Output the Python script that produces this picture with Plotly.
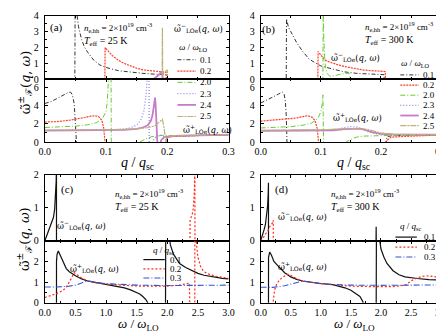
import plotly.graph_objects as go

# curve labels
w_labels = ["0.1", "0.2", "2.0", "2.3", "2.4", "2.5"]   # omega / omega_LO, panels a, b
q_labels = ["0.1", "0.2", "0.3"]                        # q / q_sc, panels c, d

# ---- panel (a), T_eff = 25 K, upper part (w~ minus) vs q/q_sc
a_up_q01 = [0.0, 0.049, 0.0495, 0.052, 0.055, 0.06, 0.065, 0.07, 0.08, 0.09, 0.1, 0.12, 0.14, 0.16, 0.18, 0.198, 0.1985, 0.3]
a_up_v01 = [0, 0, 5.0, 4.2, 3.3, 2.5, 2.0, 1.7, 1.2, 0.9, 0.75, 0.55, 0.45, 0.38, 0.33, 0.3, 0, 0]
a_up_q02 = [0.0, 0.098, 0.0985, 0.105, 0.11, 0.115, 0.12, 0.13, 0.14, 0.15, 0.16, 0.17, 0.18, 0.19, 0.198, 0.1985, 0.3]
a_up_v02 = [0, 0, 2.0, 1.7, 1.5, 1.35, 1.2, 1.0, 0.83, 0.7, 0.6, 0.55, 0.5, 0.47, 0.45, 0, 0]
a_up_q20 = [0.0, 0.3]
a_up_v20 = [0, 0]
a_up_q23 = [0.0, 0.3]
a_up_v23 = [0, 0]
a_up_q24 = [0.0, 0.177, 0.185, 0.192, 0.1925, 0.3]
a_up_v24 = [0, 0, 0.25, 0.5, 0, 0]
a_up_q25 = [0.0, 0.1915, 0.192, 0.1925, 0.195, 0.2, 0.2005, 0.3]
a_up_v25 = [0, 0, 3.25, 0.3, 0.45, 0.6, 0, 0]

# ---- panel (a), lower part (w~ plus)
a_lo_q01 = [0.0, 0.01, 0.02, 0.03, 0.038, 0.042, 0.045, 0.048, 0.05, 0.0515, 0.052, 0.199, 0.2, 0.21, 0.23, 0.26, 0.3]
a_lo_v01 = [4.25, 4.45, 4.8, 5.2, 5.45, 5.5, 5.2, 4.2, 2.0, 0.3, -0.5, -0.5, 0.55, 0.65, 0.7, 0.75, 0.8]
a_lo_q02 = [0.0, 0.02, 0.04, 0.055, 0.065, 0.075, 0.082, 0.088, 0.093, 0.096, 0.098, 0.099, 0.199, 0.2, 0.21, 0.23, 0.26, 0.3]
a_lo_v02 = [2.2, 2.25, 2.4, 2.55, 2.7, 2.85, 2.9, 2.8, 2.4, 1.6, 0.5, -0.5, -0.5, 0.5, 0.62, 0.68, 0.74, 0.8]
a_lo_q20 = [0.0, 0.03, 0.05, 0.07, 0.085, 0.095, 0.1, 0.102, 0.104, 0.106, 0.108, 0.1085, 0.15, 0.155, 0.165, 0.175, 0.185, 0.195, 0.2, 0.21, 0.25, 0.3]
a_lo_v20 = [1.6, 1.65, 1.75, 1.9, 2.15, 2.7, 3.4, 4.5, 6.8, 9.0, 12.0, -0.5, -0.5, 0.0, 0.35, 0.6, 0.7, 0.75, 0.7, 0.7, 0.74, 0.8]
a_lo_q23 = [0.0, 0.05, 0.1, 0.12, 0.135, 0.145, 0.152, 0.158, 0.162, 0.165, 0.167, 0.17, 0.1705, 0.175, 0.178, 0.185, 0.19, 0.195, 0.2, 0.21, 0.25, 0.3]
a_lo_v23 = [1.3, 1.3, 1.32, 1.38, 1.5, 1.7, 2.0, 2.6, 3.5, 5.0, 6.8, 9.0, -0.5, -0.5, 0.4, 0.7, 0.75, 0.6, 0.55, 0.65, 0.73, 0.8]
a_lo_q24 = [0.0, 0.05, 0.1, 0.13, 0.15, 0.16, 0.168, 0.173, 0.176, 0.178, 0.18, 0.181, 0.182, 0.183, 0.184, 0.188, 0.19, 0.195, 0.2, 0.21, 0.25, 0.3]
a_lo_v24 = [1.25, 1.25, 1.27, 1.33, 1.45, 1.6, 1.85, 2.3, 3.0, 4.0, 4.9, 4.0, 2.2, 0.8, -0.5, -0.5, 0.2, 0.55, 0.6, 0.68, 0.74, 0.8]
a_lo_q25 = [0.0, 0.1, 0.15, 0.17, 0.18, 0.186, 0.19, 0.192, 0.194, 0.196, 0.197, 0.199, 0.2, 0.205, 0.21, 0.25, 0.3]
a_lo_v25 = [1.3, 1.33, 1.45, 1.6, 1.8, 2.1, 2.4, 2.5, 1.8, 0.8, -0.5, -0.5, 0.5, 0.6, 0.7, 0.75, 0.82]

# ---- panel (b), T_eff = 300 K, upper part
b_up_q01 = [0.0, 0.0425, 0.043, 0.046, 0.05, 0.055, 0.06, 0.07, 0.08, 0.09, 0.1, 0.12, 0.14, 0.16, 0.18, 0.2, 0.205, 0.2055, 0.3]
b_up_v01 = [0, 0, 3.8, 3.3, 3.0, 2.6, 2.3, 1.75, 1.3, 1.05, 0.85, 0.65, 0.47, 0.38, 0.34, 0.3, 0.3, 0, 0]
b_up_q02 = [0.0, 0.095, 0.0955, 0.1, 0.105, 0.11, 0.12, 0.13, 0.14, 0.15, 0.16, 0.17, 0.18, 0.19, 0.2, 0.207, 0.2075, 0.3]
b_up_v02 = [0, 0, 1.75, 1.5, 1.3, 1.15, 1.0, 0.9, 0.8, 0.72, 0.65, 0.6, 0.56, 0.53, 0.5, 0.5, 0, 0]
b_up_q20 = [0.0, 0.1035, 0.104, 0.105, 0.107, 0.11, 0.115, 0.125, 0.135, 0.145, 0.147, 0.1475, 0.3]
b_up_v20 = [0, 0, 4.5, 2.5, 1.0, 0.4, 0.2, 0.25, 0.35, 0.4, 0.4, 0, 0]
b_up_q23 = [0.0, 0.3]
b_up_v23 = [0, 0]
b_up_q24 = [0.0, 0.3]
b_up_v24 = [0, 0]
b_up_q25 = [0.0, 0.3]
b_up_v25 = [0, 0]

# ---- panel (b), lower part
b_lo_q01 = [0.0, 0.01, 0.02, 0.03, 0.036, 0.039, 0.041, 0.0425, 0.0435, 0.044, 0.208, 0.21, 0.22, 0.25, 0.3]
b_lo_v01 = [4.3, 4.6, 4.95, 5.3, 5.5, 5.3, 4.5, 3.0, 1.0, -0.5, -0.5, 0.6, 0.7, 0.75, 0.8]
b_lo_q02 = [0.0, 0.02, 0.04, 0.06, 0.07, 0.078, 0.085, 0.09, 0.094, 0.096, 0.097, 0.207, 0.208, 0.215, 0.22, 0.24, 0.27, 0.3]
b_lo_v02 = [2.3, 2.4, 2.5, 2.65, 2.8, 2.9, 2.75, 2.4, 1.5, 0.5, -0.5, -0.5, 0.05, 0.45, 0.55, 0.62, 0.7, 0.78]
b_lo_q20 = [0.0, 0.03, 0.05, 0.07, 0.085, 0.095, 0.1, 0.103, 0.1035, 0.104, 0.1045, 0.14, 0.142, 0.15, 0.16, 0.17, 0.19, 0.21, 0.25, 0.3]
b_lo_v20 = [1.55, 1.6, 1.7, 1.85, 2.1, 2.6, 3.3, 4.5, 5.2, 3.0, -0.5, -0.5, 0.0, 0.3, 0.55, 0.65, 0.7, 0.72, 0.75, 0.78]
b_lo_q23 = [0.0, 0.05, 0.1, 0.12, 0.135, 0.15, 0.16, 0.17, 0.18, 0.19, 0.2, 0.25, 0.3]
b_lo_v23 = [1.25, 1.25, 1.28, 1.35, 1.5, 1.7, 1.65, 1.35, 1.1, 0.95, 0.85, 0.8, 0.8]
b_lo_q24 = [0.0, 0.05, 0.1, 0.12, 0.14, 0.155, 0.165, 0.175, 0.185, 0.2, 0.22, 0.3]
b_lo_v24 = [1.22, 1.23, 1.25, 1.3, 1.42, 1.5, 1.48, 1.3, 1.1, 0.9, 0.85, 0.8]
b_lo_q25 = [0.0, 0.05, 0.1, 0.14, 0.165, 0.18, 0.2, 0.22, 0.3]
b_lo_v25 = [1.3, 1.32, 1.35, 1.45, 1.5, 1.35, 1.0, 0.85, 0.8]

# ---- panel (c), T_eff = 25 K, vs omega/omega_LO
c_up_w01 = [0.0, 0.02, 0.05, 0.08, 0.11, 0.14, 0.16, 0.175, 0.185, 0.19, 0.1905, 3.0]
c_up_v01 = [0, 0.1, 0.22, 0.35, 0.5, 0.7, 0.95, 1.3, 1.8, 2.3, 0, 0]
c_up_w02 = [0.0, 2.37, 2.372, 2.4, 2.42, 2.44, 2.45, 2.452, 3.0]
c_up_v02 = [0, 0, 0.65, 0.75, 0.9, 1.4, 2.2, 0, 0]
c_up_w03 = [0.0, 3.0]
c_up_v03 = [0, 0]

c_lo_w01 = [0.0, 0.19, 0.1905, 0.2, 0.22, 0.25, 0.3, 0.35, 0.4, 0.5, 0.6, 0.7, 0.8, 0.9, 1.0, 1.1, 1.2, 1.3, 1.4, 1.5,
            1.55, 1.6, 1.65, 1.68, 1.69, 1.97, 1.975, 2.0, 2.02, 2.05, 2.1, 2.15, 2.2, 2.3, 2.4, 2.5, 2.6, 2.7, 2.8, 2.9, 3.0]
c_lo_v01 = [-0.5, -0.5, 2.0, 2.35, 2.5, 2.3, 1.9, 1.65, 1.5, 1.3, 1.15, 1.05, 1.0, 0.95, 0.9, 0.85, 0.8, 0.72, 0.62, 0.5,
            0.42, 0.3, 0.15, 0.0, -0.5, -0.5, 4.0, 4.0, 3.4, 2.8, 2.35, 2.1, 1.9, 1.7, 1.55, 1.42, 1.33, 1.27, 1.22, 1.18, 1.15]
c_lo_w02 = [0.0, 0.1, 0.2, 0.3, 0.35, 0.4, 0.45, 0.48, 0.55, 0.6, 0.7, 0.8, 1.0, 1.2, 1.4, 1.6, 1.8, 2.0, 2.2, 2.3, 2.36,
            2.37, 2.449, 2.45, 2.47, 2.5, 2.55, 2.6, 2.7, 2.8, 2.9, 3.0]
c_lo_v02 = [0.25, 0.35, 0.45, 0.6, 0.75, 1.0, 1.3, 1.45, 1.3, 1.2, 1.05, 0.98, 0.9, 0.85, 0.82, 0.8, 0.8, 0.8, 0.85, 0.9, 0.95,
            -0.5, -0.5, 4.0, 3.0, 2.2, 1.7, 1.5, 1.35, 1.28, 1.22, 1.18]
c_lo_w03 = [0.0, 0.2, 0.4, 0.5, 0.6, 0.68, 0.75, 0.85, 1.0, 1.2, 1.5, 2.0, 2.5, 3.0]
c_lo_v03 = [0.76, 0.76, 0.8, 0.85, 0.95, 1.05, 1.03, 0.97, 0.92, 0.88, 0.85, 0.83, 0.85, 0.85]

# ---- panel (d), T_eff = 300 K
d_up_w01 = [0.0, 0.02, 0.04, 0.06, 0.08, 0.1, 0.115, 0.125, 0.13, 0.1305, 1.918, 1.92, 1.922, 3.0]
d_up_v01 = [0, 0.1, 0.2, 0.35, 0.5, 0.75, 1.05, 1.4, 1.75, 0, 0, 0.42, 0, 0]
d_up_w02 = [0.0, 0.03, 0.08, 0.12, 0.16, 0.2, 0.21, 0.2105, 3.0]
d_up_v02 = [0, 0.05, 0.2, 0.3, 0.45, 0.55, 0.62, 0, 0]
d_up_w03 = [0.0, 3.0]
d_up_v03 = [0, 0]

d_lo_w01 = [0.0, 0.13, 0.131, 0.15, 0.18, 0.22, 0.3, 0.4, 0.5, 0.6, 0.7, 0.8, 1.0, 1.2, 1.3, 1.4, 1.5, 1.6, 1.65, 1.7,
            1.705, 1.92, 1.925, 1.96, 1.98, 2.0, 2.05, 2.1, 2.2, 2.3, 2.4, 2.5, 2.6, 2.8, 3.0]
d_lo_v01 = [-0.5, -0.5, 2.2, 2.45, 2.3, 2.0, 1.75, 1.45, 1.25, 1.13, 1.05, 1.0, 0.93, 0.87, 0.8, 0.72, 0.6, 0.42, 0.3, 0.05,
            -0.5, -0.5, 4.0, 3.4, 2.9, 2.6, 2.2, 1.9, 1.55, 1.35, 1.25, 1.2, 1.17, 1.12, 1.1]
d_lo_w02 = [0.0, 0.21, 0.211, 0.23, 0.26, 0.3, 0.35, 0.4, 0.45, 0.5, 0.6, 0.7, 0.8, 1.0, 1.2, 1.5, 1.8, 2.0, 2.2, 2.4,
            2.5, 2.6, 2.7, 2.8, 2.9, 3.0]
d_lo_v02 = [-0.5, -0.5, 0.1, 0.6, 0.85, 1.05, 1.2, 1.3, 1.38, 1.33, 1.15, 1.05, 1.0, 0.92, 0.86, 0.8, 0.78, 0.78, 0.78, 0.85,
            1.05, 1.2, 1.28, 1.3, 1.25, 1.22]
d_lo_w03 = [0.0, 0.2, 0.4, 0.5, 0.6, 0.7, 0.8, 1.0, 1.2, 1.5, 2.0, 2.5, 3.0]
d_lo_v03 = [0.75, 0.74, 0.82, 0.9, 1.0, 1.05, 1.0, 0.92, 0.88, 0.85, 0.84, 0.85, 0.86]

W, H = 444, 335
FONT = "Liberation Serif"
FONT_W = "DejaVu Serif"   # handles the combining tilde on omega


def px(x):
    return x / W


def py(y):
    return 1 - y / H


# line styles for omega/omega_LO curves and q/q_sc curves
w_styles = [dict(color="#333333", dash="4px,2px,1px,2px", width=1),
            dict(color="#ff3b26", dash="2px,1px", width=1.2),
            dict(color="#66cc33", dash="5px,2px,1px,2px", width=1),
            dict(color="#8c8cf0", dash="1px,2px", width=1.3),
            dict(color="#c77cc7", width=1.8),
            dict(color="#bab276", dash="6px,1px,2px,1px", width=1.2)]
q_styles = [dict(color="#111111", width=1.2),
            dict(color="#ff2a1a", dash="2px,2px", width=1.2),
            dict(color="#3355cc", dash="6px,2px,1px,2px", width=1.1)]

panels = {
    1: (w_styles, [(a_up_q01, a_up_v01), (a_up_q02, a_up_v02), (a_up_q20, a_up_v20),
                   (a_up_q23, a_up_v23), (a_up_q24, a_up_v24), (a_up_q25, a_up_v25)]),
    2: (w_styles, [(a_lo_q01, a_lo_v01), (a_lo_q02, a_lo_v02), (a_lo_q20, a_lo_v20),
                   (a_lo_q23, a_lo_v23), (a_lo_q24, a_lo_v24), (a_lo_q25, a_lo_v25)]),
    3: (w_styles, [(b_up_q01, b_up_v01), (b_up_q02, b_up_v02), (b_up_q20, b_up_v20),
                   (b_up_q23, b_up_v23), (b_up_q24, b_up_v24), (b_up_q25, b_up_v25)]),
    4: (w_styles, [(b_lo_q01, b_lo_v01), (b_lo_q02, b_lo_v02), (b_lo_q20, b_lo_v20),
                   (b_lo_q23, b_lo_v23), (b_lo_q24, b_lo_v24), (b_lo_q25, b_lo_v25)]),
    5: (q_styles, [(c_up_w01, c_up_v01), (c_up_w02, c_up_v02), (c_up_w03, c_up_v03)]),
    6: (q_styles, [(c_lo_w01, c_lo_v01), (c_lo_w02, c_lo_v02), (c_lo_w03, c_lo_v03)]),
    7: (q_styles, [(d_up_w01, d_up_v01), (d_up_w02, d_up_v02), (d_up_w03, d_up_v03)]),
    8: (q_styles, [(d_lo_w01, d_lo_v01), (d_lo_w02, d_lo_v02), (d_lo_w03, d_lo_v03)]),
}

fig = go.Figure()
for k, (styles, curves) in panels.items():
    sfx = "" if k == 1 else str(k)
    for st, (xs, ys) in zip(styles, curves):
        fig.add_trace(go.Scatter(x=xs, y=ys, mode="lines", line=st, showlegend=False,
                                 xaxis="x" + sfx, yaxis="y" + sfx, hoverinfo="skip"))

# pixel boxes of the sub-plots
col_x = {"L": (31.7, 220.5), "R": (253.5, 439.0)}
row_y = {1: (2.7, 68.7), 2: (68.7, 133.4), 3: (167.0, 235.5), 4: (235.5, 299.5)}
# panel: column, row, x range, y range, y tick values, x tick step
layout_spec = {
    1: ("L", 1, [0, 0.3], [0, 4.0], [0, 1, 2, 3, 4], 0.1),
    2: ("L", 2, [0, 0.3], [0, 6.9], [0, 2, 4, 6], 0.1),
    3: ("R", 1, [0, 0.3], [0, 4.0], [0, 1, 2, 3, 4], 0.1),
    4: ("R", 2, [0, 0.3], [0, 6.9], [0, 2, 4, 6], 0.1),
    5: ("L", 3, [0, 3], [0, 2.0], [0, 1, 2], 0.5),
    6: ("L", 4, [0, 3], [0, 3.0], [0, 1, 2], 0.5),
    7: ("R", 3, [0, 3], [0, 2.0], [0, 1, 2], 0.5),
    8: ("R", 4, [0, 3], [0, 3.0], [0, 1, 2], 0.5),
}

axis_common = dict(showline=True, linecolor="black", linewidth=1, mirror="ticks", ticks="inside",
                   ticklen=3, tickwidth=1, tickcolor="black", showgrid=False, zeroline=False,
                   tickfont=dict(family=FONT, size=10, color="black"))

lay = {}
for k, (col, row, xr, yr, yticks, xdt) in layout_spec.items():
    sfx = "" if k == 1 else str(k)
    x0, x1 = col_x[col]
    y0, y1 = row_y[row]
    upper = row in (1, 3)
    xa = dict(axis_common, domain=[px(x0), px(x1)], range=xr, dtick=xdt, tick0=0, tickformat=".1f",
              anchor="y" + sfx, showticklabels=not upper,
              minor=dict(ticks="inside", ticklen=2, dtick=xdt / 2, tickcolor="black"))
    ystep = yticks[1] - yticks[0]
    ya = dict(axis_common, domain=[py(y1), py(y0)], range=yr, tickvals=yticks,
              anchor="x" + sfx, ticklabelstandoff=3,
              minor=dict(ticks="inside", ticklen=2, dtick=ystep / 2, tick0=0, tickcolor="black"))
    lay["xaxis" + sfx] = xa
    lay["yaxis" + sfx] = ya

fig.update_layout(**lay)

ann = []
shapes = []


def text(x, y, s, size=10, xanchor="center", family=FONT):
    ann.append(dict(x=px(x), y=py(y), xref="paper", yref="paper", text=s, showarrow=False,
                    xanchor=xanchor, yanchor="middle", font=dict(family=family, size=size, color="black")))


wt = "ω\u0303"
minus_lbl = wt + "<sup>−</sup><sub>LOe</sub>(<i>q</i>, <i>ω</i>)"
plus_lbl = wt + "<sup>+</sup><sub>LOe</sub>(<i>q</i>, <i>ω</i>)"
dens = "<i>n</i><sub>e,hh</sub> = 2×10<sup>19</sup> cm<sup>-3</sup>"

# panel labels and parameters
text(44, 15, "(a)", 11)
text(262, 17, "(b)", 11)
text(55, 182, "(c)", 11)
text(275, 182, "(d)", 11)
text(70, 15, dens, 9, "left")
text(70, 29, "<i>T</i><sub>eff</sub> = 25 K", 10, "left")
text(359, 14, dens, 9, "left")
text(359, 28, "<i>T</i><sub>eff</sub> = 300 K", 10, "left")
text(102, 187, dens, 9, "left")
text(102, 201, "<i>T</i><sub>eff</sub> = 25 K", 10, "left")
text(324, 187, dens, 9, "left")
text(324, 201, "<i>T</i><sub>eff</sub> = 300 K", 10, "left")

text(190, 16, minus_lbl, 8.5, family=FONT_W)
text(199, 120, plus_lbl, 8.5, family=FONT_W)
text(351, 46, minus_lbl, 8.5, family=FONT_W)
text(353, 108, plus_lbl, 8.5, family=FONT_W)
text(69, 219, minus_lbl, 8.5, family=FONT_W)
text(83, 264, plus_lbl, 8.5, family=FONT_W)
text(296, 210, minus_lbl, 8.5, family=FONT_W)
text(297, 262, plus_lbl, 8.5, family=FONT_W)

# axis titles
ytitle = wt + "<sup>±</sup><sub>ℱ</sub>(<i>q</i>, <i>ω</i>)"
for yc in (72, 234):
    ann.append(dict(x=px(11), y=py(yc), xref="paper", yref="paper", text=ytitle, showarrow=False,
                    xanchor="center", yanchor="middle", textangle=-90,
                    font=dict(family=FONT_W, size=13, color="black")))
text(127, 156, "<i>q</i> / <i>q</i><sub>sc</sub>", 14)
text(349, 156, "<i>q</i> / <i>q</i><sub>sc</sub>", 14)
text(128, 322, "<i>ω</i> / <i>ω</i><sub>LO</sub>", 13)
text(350, 322, "<i>ω</i> / <i>ω</i><sub>LO</sub>", 13)


# legends (line keys drawn as shapes)
def legend(title, tx, ty, labels, styles, lx0, lx1, txt_x, ys):
    text(tx, ty, title, 9)
    for lab, st, yy in zip(labels, styles, ys):
        shapes.append(dict(type="line", xref="paper", yref="paper", x0=px(lx0), x1=px(lx1),
                           y0=py(yy), y1=py(yy),
                           line=dict(color=st["color"], width=st["width"], dash=st.get("dash", "solid"))))
        text(txt_x, yy, lab, 9, "left")


w_title = "<i>ω</i> / <i>ω</i><sub>LO</sub>"
q_title = "<i>q</i> / <i>q</i><sub>sc</sub>"
legend(w_title, 184, 36, w_labels, w_styles, 168, 187, 189, [48.3, 60, 71.7, 83.3, 95, 107])
legend(w_title, 413, 52, w_labels, w_styles, 397, 416, 418, [64, 74.5, 85, 95.5, 106, 116.5])
legend(q_title, 154, 246, q_labels, q_styles, 133, 155, 158, [255, 264.5, 274])
legend(q_title, 408, 221, q_labels, q_styles, 392, 414, 419, [231.7, 242, 252.3])

fig.update_layout(width=W, height=H, margin=dict(l=0, r=0, t=0, b=0),
                  paper_bgcolor="white", plot_bgcolor="white",
                  annotations=ann, shapes=shapes, showlegend=False)

fig.write_html("out.html")
